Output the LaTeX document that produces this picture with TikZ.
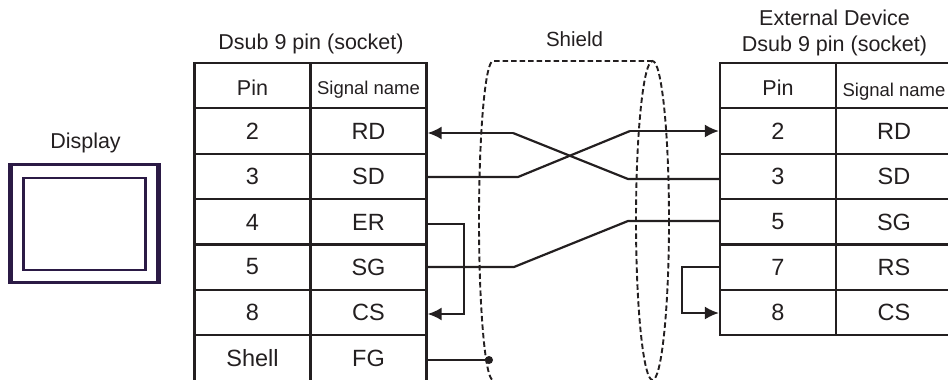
\documentclass[tikz,border=0pt]{standalone}
\usepackage{fontspec}
\usetikzlibrary{arrows.meta}
\setmainfont{Liberation Sans}
\definecolor{lineink}{HTML}{231F20}
\definecolor{screenink}{HTML}{2B1A45}
\tikzset{
  pincell/.style={draw=lineink,line width=2.2pt,minimum width=116pt,minimum height=45.4pt,inner sep=0pt,text=lineink,font=\fontsize{23.5}{23.5}\selectfont},
  headcell/.style={pincell,font=\fontsize{21.5}{21.5}\selectfont,text height=24pt,text depth=3.6pt},
  namecell/.style={pincell,font=\fontsize{18.5}{18.5}\selectfont,text height=20pt,text depth=2.4pt},
  title/.style={text=lineink,inner sep=0pt,font=\fontsize{21.5}{26}\selectfont,align=center},
  wire/.style={draw=lineink,line width=2.2pt},
  wiretip/.style={wire,-{Latex[length=14pt,width=13pt]}},
  shield/.style={draw=lineink,line width=1.9pt,dash pattern=on 5.5pt off 3pt}
}
\begin{document}
\begin{tikzpicture}[x=1pt,y=-1pt]
  \useasboundingbox (0,0) rectangle (948,380);
  % display
  \node[title] (display) at (85.5,143) {Display};
  \draw[screenink,line width=3pt] (9.5,164.5) rectangle (159.5,282.5);
  \draw[screenink,line width=4.5pt] (10.5,164) -- (10.5,283) (158.5,164) -- (158.5,283);
  \draw[screenink,line width=2.2pt] (23.5,178) rectangle (145.5,270);
  % left table
  \node[title] (ltitle) at (311,44) {Dsub 9 pin (socket)};
  \node[headcell] (lhead) at (252.5,85.5) {Pin};
  \node[namecell] (lhname) at (368.5,85.5) {Signal name};
  \foreach \rowy/\pinno/\signame in {131/2/RD,176.5/3/SD,222/4/ER,267/5/SG,312.5/8/CS,358/Shell/FG} {
    \node[pincell] (lp\signame) at (252.5,\rowy) {\pinno};
    \node[pincell] (l\signame) at (368.5,\rowy) {\signame};
  }
  % right table
  \node[title] (rtitle) at (834.5,33) {External Device\\Dsub 9 pin (socket)};
  \node[headcell] (rhead) at (778,85.5) {Pin};
  \node[namecell,text height=24pt,text depth=3pt] (rhname) at (894,85.5) {Signal name};
  \foreach \rowy/\pinno/\signame in {131/2/RD,176.5/3/SD,222/5/SG,267/7/RS,312.5/8/CS} {
    \node[pincell] (rp\signame) at (778,\rowy) {\pinno};
    \node[pincell] (r\signame) at (894,\rowy) {\signame};
  }
  % shield
  \node[title,font=\fontsize{20.5}{25}\selectfont] (stitle) at (574.5,39) {Shield};
  \draw[shield] (652.5,220.5) ellipse (16.5 and 159.5);
  \draw[shield] (652.5,61) -- (493,61) arc[start angle=270,end angle=90,x radius=14,y radius=159.5];
  % wires
  \coordinate (crossa) at (513,133);
  \coordinate (crossb) at (628,179);
  \coordinate (crossc) at (518,177);
  \coordinate (crossd) at (630,131);
  \coordinate (gnda) at (514,267);
  \coordinate (gndb) at (628,221);
  \coordinate (erbend) at (464,224);
  \coordinate (csbend) at (464,314);
  \coordinate (rsbend) at (682,267);
  \coordinate (rcsbend) at (682,313);
  \node[circle,fill=lineink,inner sep=0pt,minimum size=8pt] (drain) at (489,360) {};
  \draw[wiretip] (crossa) -- (lRD.east |- crossa);
  \draw[wire] (crossa) -- (crossb) -- (rpSD.west |- crossb);
  \draw[wire] (lSD.east |- crossc) -- (crossc) -- (crossd);
  \draw[wiretip] (crossd) -- (rpRD.west |- crossd);
  \draw[wire] (lSG.east |- gnda) -- (gnda) -- (gndb) -- (rpSG.west |- gndb);
  \draw[wiretip] (lER.east |- erbend) -- (erbend) -- (csbend) -- (lCS.east |- csbend);
  \draw[wiretip] (rpRS.west |- rsbend) -- (rsbend) -- (rcsbend) -- (rpCS.west |- rcsbend);
  \draw[wire] (lFG.east |- drain) -- (drain);
\end{tikzpicture}
\end{document}
